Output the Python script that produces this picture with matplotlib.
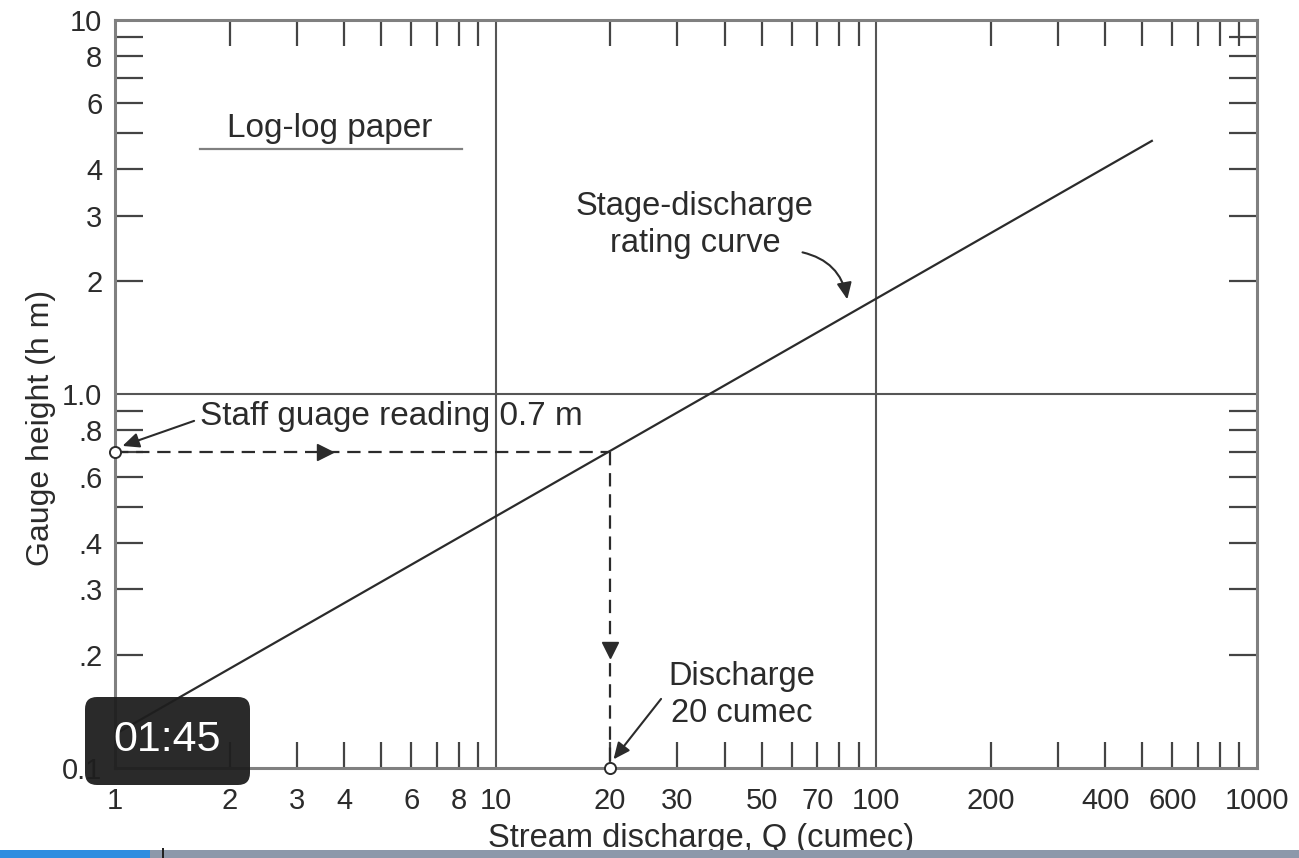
import numpy as np
import matplotlib
matplotlib.use('Agg')
import matplotlib.pyplot as plt
from matplotlib.patches import FancyBboxPatch, Rectangle

plt.rcParams['font.family'] = ['Liberation Sans', 'DejaVu Sans']

# rating curve end points (Q in cumec, h in m)
rating_q = [1.0, 530.0]
rating_h = [0.123, 4.75]

# the worked reading
reading_h = 0.7
reading_q = 20

x_ticks = [1, 2, 3, 4, 6, 8, 10, 20, 30, 50, 70, 100, 200, 400, 600, 1000]
x_labels = ['1', '2', '3', '4', '6', '8', '10', '20', '30', '50', '70', '100',
            '200', '400', '600', '1000']
y_ticks = [0.1, 0.2, 0.3, 0.4, 0.6, 0.8, 1.0, 2, 3, 4, 6, 8, 10]
y_labels = ['0.1', '.2', '.3', '.4', '.6', '.8', '1.0', '2', '3', '4', '6', '8', '10']

ink = '#2b2b2b'
gray = '#808080'
head = '-|>,head_length=1.0,head_width=0.45'

fig = plt.figure(figsize=(12.99, 8.58), dpi=100)
ax = fig.add_axes([0.0885, 0.105, 0.879, 0.8717])
ax.set_xscale('log')
ax.set_yscale('log')
ax.set_xlim(1, 1000)
ax.set_ylim(0.1, 10)

# tick labels on the major positions, tick marks on every 2..9 position
ax.set_xticks(x_ticks)
ax.set_xticklabels(x_labels)
ax.set_yticks(y_ticks)
ax.set_yticklabels(y_labels)
x_minor = [k * 10.0 ** d for d in range(0, 3) for k in range(2, 10)]
y_minor = [k * 10.0 ** d for d in range(-1, 1) for k in range(2, 10)]
ax.set_xticks(x_minor, minor=True)
ax.set_yticks(y_minor, minor=True)
ax.xaxis.remove_overlapping_locs = False
ax.yaxis.remove_overlapping_locs = False
ax.tick_params(which='major', length=0, labelsize=21, labelcolor=ink)
ax.tick_params(axis='x', which='major', pad=14)
ax.tick_params(axis='y', which='major', pad=9)
ax.tick_params(axis='x', which='minor', direction='in', length=19, width=1.6,
               color='#444444', top=True, bottom=True, labelbottom=False)
ax.tick_params(axis='y', which='minor', direction='in', length=20, width=1.6,
               color='#444444', left=True, right=True, labelleft=False)

for s in ax.spines.values():
    s.set_color(gray)
    s.set_linewidth(2.2)

# heavy decade lines
ax.axvline(10, color='#555555', lw=1.5, zorder=1)
ax.axvline(100, color='#555555', lw=1.5, zorder=1)
ax.axhline(1.0, color='#555555', lw=1.5, zorder=1)

# rating curve
ax.plot(rating_q, rating_h, color=ink, lw=1.6, zorder=3)

# dashed reading lines
ax.plot([1, reading_q], [reading_h, reading_h], color=ink, lw=1.6, ls=(0, (6, 3.5)), zorder=3)
ax.plot([reading_q, reading_q], [reading_h, 0.1], color=ink, lw=1.6, ls=(0, (6, 3.5)), zorder=3)
ax.plot([3.56], [reading_h], marker='>', ms=12, color=ink, zorder=4, clip_on=False)
ax.plot([reading_q], [0.207], marker='v', ms=12, color=ink, zorder=4, clip_on=False)
ax.plot([1, reading_q], [reading_h, 0.1], ls='none', marker='o', ms=8, mfc='white',
        mec=ink, mew=1.4, zorder=5, clip_on=False)

# annotations
ax.text(3.67, 5.14, 'Log-log paper', fontsize=24, color=ink, ha='center', va='center')
ax.plot([1.67, 8.15], [4.52, 4.52], color=gray, lw=1.6)

ax.text(33.4, 2.83, 'Stage-discharge\nrating curve', fontsize=23.5, color=ink,
        ha='center', va='center', linespacing=1.25)
ax.annotate('', xy=(84.2, 1.76), xytext=(63.0, 2.40),
            arrowprops=dict(arrowstyle=head, color=ink, lw=1.5,
                            connectionstyle='arc3,rad=-0.35'))

ax.text(1.67, 0.873, 'Staff guage reading 0.7 m', fontsize=24, color=ink,
        ha='left', va='center')
ax.annotate('', xy=(1.03, 0.722), xytext=(1.64, 0.852),
            arrowprops=dict(arrowstyle=head, color=ink, lw=1.5))

ax.text(44.4, 0.157, 'Discharge\n20 cumec', fontsize=23.5, color=ink,
        ha='center', va='center', linespacing=1.25)
ax.annotate('', xy=(20.2, 0.104), xytext=(27.5, 0.155),
            arrowprops=dict(arrowstyle=head, color=ink, lw=1.5))

ax.set_xlabel('Stream discharge, Q (cumec)', fontsize=23.5, color=ink)
ax.set_ylabel('Gauge height (h m)', fontsize=23, color=ink)
ax.xaxis.set_label_coords(0.513, -0.073)
ax.yaxis.set_label_coords(-0.0517, 0.4545)

# video overlay: timestamp box and progress bar (pixel coordinates)
fig.add_artist(FancyBboxPatch((85, 858 - 785), 165, 88,
                              boxstyle='round,pad=0,rounding_size=12',
                              transform=None, facecolor='#1e1e1e', edgecolor='none',
                              alpha=0.95, zorder=10))
fig.text(167 / 1299, 1 - 740 / 858, '01:45', fontsize=31, color='white',
         ha='center', va='center', zorder=11)
fig.add_artist(Rectangle((0, 0), 150, 8, transform=None, facecolor='#2e8de0',
                         edgecolor='none', zorder=10))
fig.add_artist(Rectangle((150, 0), 1149, 8, transform=None, facecolor='#8c98aa',
                         edgecolor='none', zorder=10))
fig.add_artist(Rectangle((162, 0), 2, 10, transform=None, facecolor='#222222',
                         edgecolor='none', zorder=11))

fig.savefig('out.png', dpi=100)
